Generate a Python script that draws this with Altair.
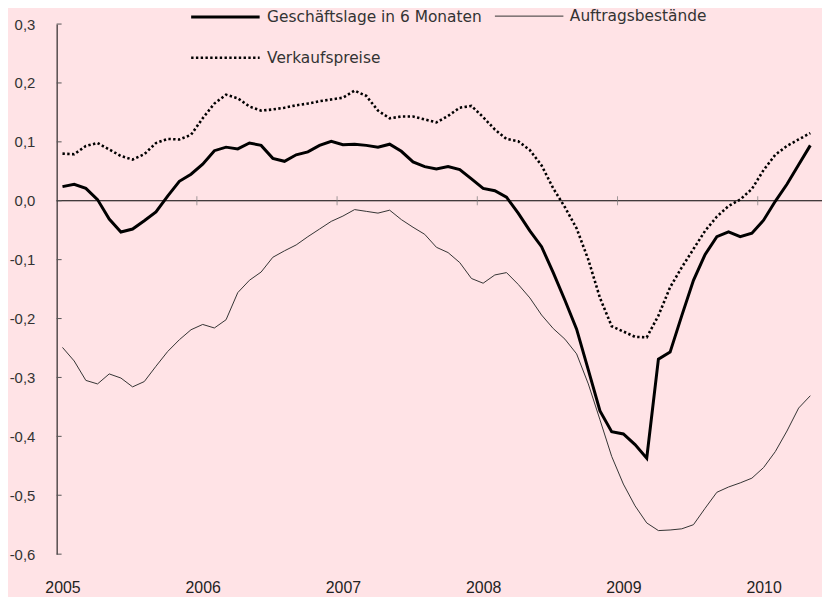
import altair as alt
import pandas as pd

# ---- data (monthly, Jan 2005 - May 2010) ----
series_names = ["Geschäftslage in 6 Monaten", "Auftragsbestände", "Verkaufspreise"]
start_year = 2005

geschaeftslage = [
    0.024, 0.028, 0.021, 0.002, -0.031, -0.053, -0.048, -0.034, -0.019, 0.008, 0.033, 0.045,
    0.062, 0.085, 0.091, 0.088, 0.098, 0.094, 0.072, 0.067, 0.078, 0.083, 0.094, 0.101,
    0.095, 0.096, 0.094, 0.091, 0.096, 0.084, 0.066, 0.058, 0.054, 0.058, 0.053, 0.037,
    0.021, 0.017, 0.006, -0.021, -0.051, -0.078, -0.122, -0.169, -0.218, -0.287, -0.357, -0.392,
    -0.396, -0.414, -0.437, -0.269, -0.257, -0.195, -0.135, -0.091, -0.061, -0.053, -0.061, -0.055,
    -0.033, -0.001, 0.028, 0.061, 0.094,
]
auftragsbestaende = [
    -0.249, -0.272, -0.305, -0.311, -0.294, -0.301, -0.316, -0.307, -0.281, -0.256, -0.236, -0.219,
    -0.210, -0.216, -0.202, -0.156, -0.135, -0.121, -0.096, -0.085, -0.075, -0.061, -0.048, -0.035,
    -0.026, -0.015, -0.018, -0.021, -0.016, -0.032, -0.045, -0.057, -0.079, -0.088, -0.105, -0.132,
    -0.140, -0.126, -0.122, -0.142, -0.165, -0.194, -0.217, -0.235, -0.260, -0.311, -0.372, -0.434,
    -0.481, -0.518, -0.547, -0.560, -0.559, -0.557, -0.550, -0.522, -0.495, -0.486, -0.479, -0.471,
    -0.453, -0.426, -0.391, -0.352, -0.331,
]
verkaufspreise = [
    0.080, 0.079, 0.093, 0.098, 0.087, 0.076, 0.070, 0.079, 0.098, 0.105, 0.104, 0.112,
    0.140, 0.165, 0.180, 0.174, 0.160, 0.153, 0.155, 0.158, 0.162, 0.165, 0.169, 0.172,
    0.175, 0.187, 0.178, 0.153, 0.140, 0.143, 0.143, 0.138, 0.133, 0.144, 0.158, 0.161,
    0.142, 0.121, 0.105, 0.101, 0.086, 0.060, 0.021, -0.011, -0.047, -0.100, -0.165, -0.213,
    -0.222, -0.231, -0.232, -0.195, -0.147, -0.113, -0.082, -0.051, -0.027, -0.009, 0.002, 0.020,
    0.052, 0.078, 0.093, 0.104, 0.115,
]

year_labels = [2005, 2006, 2007, 2008, 2009, 2010]
year_ticks = [2006, 2007, 2008, 2009, 2010]
y_ticks = [-0.6, -0.5, -0.4, -0.3, -0.2, -0.1, 0.0, 0.1, 0.2, 0.3]

n_months = len(geschaeftslage)

rows = []
for name, vals in zip(series_names, [geschaeftslage, auftragsbestaende, verkaufspreise]):
    for i, v in enumerate(vals):
        rows.append({"series": name, "t": start_year + (i + 0.5) / 12.0, "value": v})
df = pd.DataFrame(rows)

zero_df = pd.DataFrame({"zero": [0.0]})
yt_df = pd.DataFrame({"v": y_ticks})
xt_df = pd.DataFrame({"yr": year_ticks, "zero": [0.0] * len(year_ticks)})

FONT = "DejaVu Sans"
TXT = "#333333"
BG = "#FFE3E6"

x_scale = alt.Scale(domain=[start_year, start_year + (n_months + 0.5) / 12.0], nice=False, zero=False)
y_scale = alt.Scale(domain=[-0.6, 0.3], nice=False, zero=False)

x_axis = alt.Axis(
    values=[y + 0.5 / 12.0 for y in year_labels],
    labelExpr="toString(floor(datum.value))",
    domain=False, ticks=False, grid=False,
    labelFont="Liberation Sans", labelFontSize=16, labelColor="#222222",
    labelPadding=26, labelFlush=False, labelOverlap=False, title="",
)
y_axis = alt.Axis(
    values=y_ticks,
    labelExpr="(datum.value < -0.0001 ? '-' : '') + replace(format(abs(datum.value), '.1f'), '.', ',')",
    domain=True, domainColor="#000000", domainWidth=1,
    ticks=False, tickSize=0, grid=False,
    labelFont="Liberation Sans", labelFontSize=15, labelColor=TXT,
    labelPadding=22, labelFlush=False, labelOverlap=False, title="",
)

X = alt.X("t:Q", scale=x_scale, axis=x_axis)
Y = alt.Y("value:Q", scale=y_scale, axis=y_axis)

zero_rule = alt.Chart(zero_df).mark_rule(color="#000000", strokeWidth=1).encode(
    y=alt.Y("zero:Q", scale=y_scale, axis=y_axis)
)

x_ticks = alt.Chart(xt_df).mark_tick(color="#777777", thickness=1, size=9, orient="vertical").encode(
    x=alt.X("yr:Q", scale=x_scale, axis=x_axis),
    y=alt.Y("zero:Q", scale=y_scale, axis=y_axis),
)

y_tick_marks = alt.Chart(yt_df).mark_rule(color="#555555", strokeWidth=1).encode(
    y=alt.Y("v:Q", scale=y_scale, axis=y_axis),
    x=alt.value(0),
    x2=alt.value(5),
)


def line_layer(name, color, width, dash, lx, ly):
    mark_kw = dict(strokeWidth=width, color=color)
    leg_kw = dict(
        orient="none", legendX=lx, legendY=ly, title=None,
        symbolType="stroke", symbolSize=4761, symbolStrokeWidth=width,
        labelFont=FONT, labelFontSize=15.5, labelColor=TXT, labelOffset=6,
        labelLimit=400, padding=0,
    )
    if dash is not None:
        mark_kw["strokeDash"] = dash
        leg_kw["symbolDash"] = dash
    return alt.Chart(df).transform_filter(alt.datum.series == name).mark_line(**mark_kw).encode(
        x=X,
        y=Y,
        color=alt.Color(
            "series:N",
            scale=alt.Scale(domain=[name], range=[color]),
            legend=alt.Legend(**leg_kw),
        ),
    )


thin = line_layer("Auftragsbestände", "#333333", 1, None, 441, -43)
dotted = line_layer("Verkaufspreise", "#000000", 2.6, [2.4, 2.4], 134, -2)
thick = line_layer("Geschäftslage in 6 Monaten", "#000000", 3, None, 134, -43)

chart = (
    alt.layer(zero_rule, x_ticks, y_tick_marks, thin, dotted, thick)
    .resolve_scale(color="independent")
    .resolve_legend(color="independent")
    .properties(
        width=771,
        height=534,
        background=BG,
        padding={"left": 49, "top": 14, "right": 0, "bottom": 41},
        autosize=alt.AutoSizeParams(type="none"),
    )
    .configure_view(strokeWidth=0)
)

chart.save("out.html", embed_options={"renderer": "svg", "actions": False})
